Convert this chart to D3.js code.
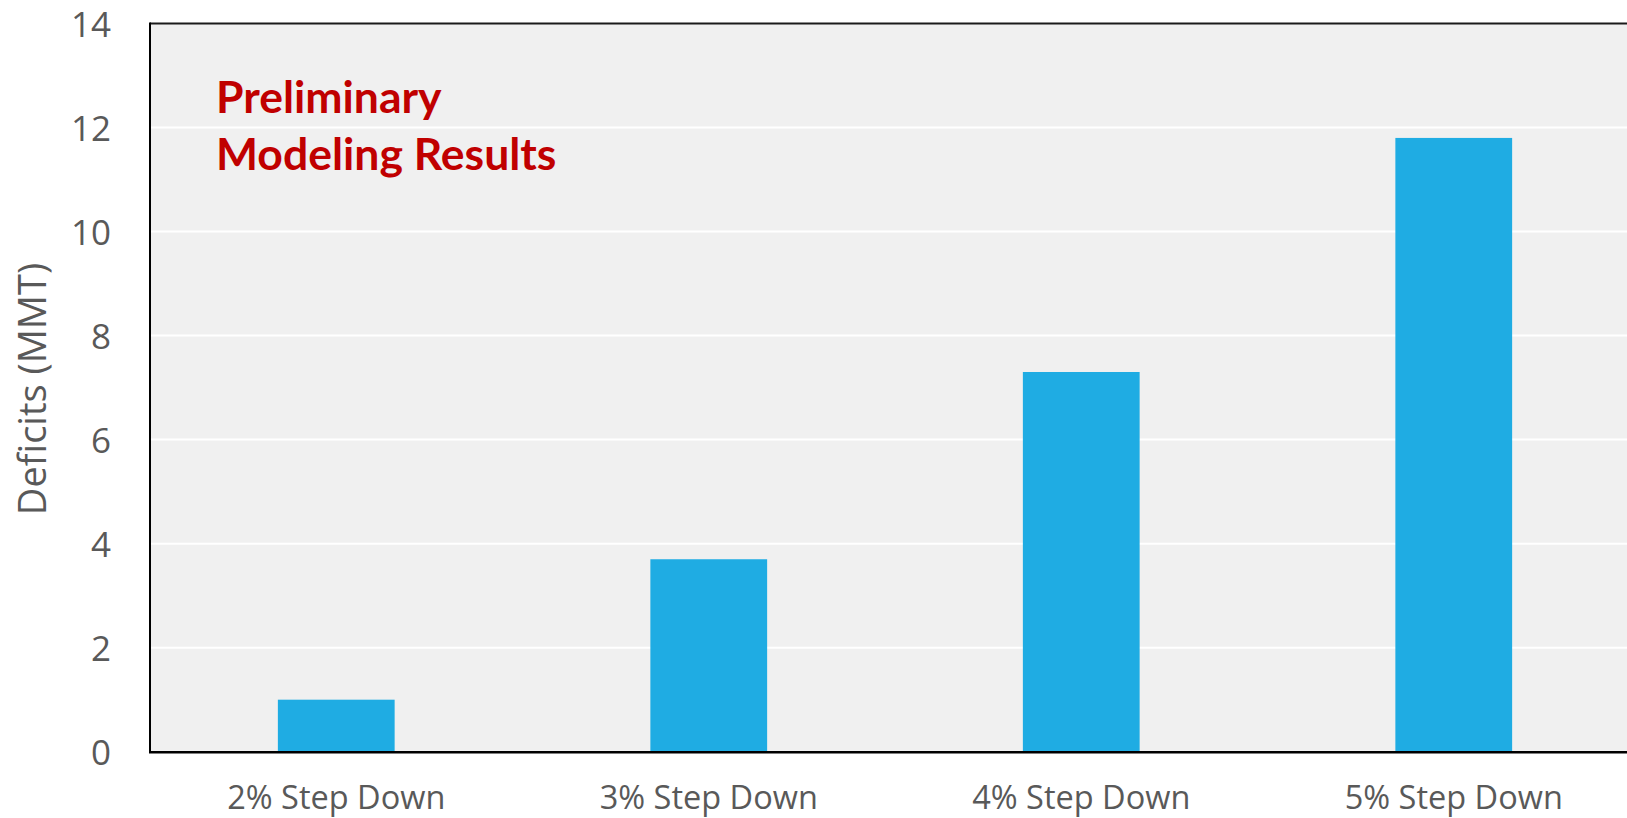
<!DOCTYPE html>
<html>
<head>
<meta charset="utf-8">
<script src="https://cdn.jsdelivr.net/npm/d3@7"></script>
<style>
  html, body { margin: 0; padding: 0; background: #ffffff; overflow: hidden; }
  svg { display: block; }
</style>
</head>
<body>
<svg id="chart" width="1627" height="818"></svg>
<script>
// ---- data ----
const categories = ["2% Step Down", "3% Step Down", "4% Step Down", "5% Step Down"];
const deficits = [1.0, 3.7, 7.3, 11.8];
const yTicks = [0, 2, 4, 6, 8, 10, 12, 14];
const yLabel = "Deficits (MMT)";
const noteLines = ["Preliminary", "Modeling Results"];

// ---- layout ----
const W = 1627, H = 818;
const plot = { left: 150, right: 1640, top: 23.5, bottom: 751.7 };

const svg = d3.select("#chart");

const x = d3.scaleBand()
  .domain(categories)
  .range([plot.left, plot.right])
  .paddingInner(1 - 1 / 3.19)
  .paddingOuter((1 - 1 / 3.19) / 2);

const y = d3.scaleLinear().domain([0, 14]).range([plot.bottom, plot.top]);

// plot background
svg.append("rect")
  .attr("x", plot.left).attr("y", plot.top)
  .attr("width", plot.right - plot.left).attr("height", plot.bottom - plot.top)
  .attr("fill", "#f0f0f0");

// gridlines
svg.append("g")
  .selectAll("line")
  .data(yTicks.filter(t => t > 0 && t < 14))
  .join("line")
  .attr("x1", plot.left).attr("x2", plot.right)
  .attr("y1", d => y(d)).attr("y2", d => y(d))
  .attr("stroke", "#ffffff").attr("stroke-width", 2);

// bars
svg.append("g")
  .selectAll("rect")
  .data(categories.map((c, i) => ({ c, v: deficits[i] })))
  .join("rect")
  .attr("x", d => x(d.c))
  .attr("width", x.bandwidth())
  .attr("y", d => y(d.v))
  .attr("height", d => y(0) - y(d.v))
  .attr("fill", "#1facE3");

// borders
svg.append("line")
  .attr("x1", plot.left).attr("x2", plot.right)
  .attr("y1", plot.top).attr("y2", plot.top)
  .attr("stroke", "#1a1a1a").attr("stroke-width", 2);
svg.append("line")
  .attr("x1", plot.left).attr("x2", plot.left)
  .attr("y1", plot.top - 1).attr("y2", plot.bottom + 1)
  .attr("stroke", "#000").attr("stroke-width", 2);
svg.append("line")
  .attr("x1", plot.left - 1).attr("x2", plot.right)
  .attr("y1", plot.bottom + 0.5).attr("y2", plot.bottom + 0.5)
  .attr("stroke", "#000").attr("stroke-width", 2.5);

// y axis (labels only)
const yAxis = d3.axisLeft(y).tickValues(yTicks).tickSize(0).tickPadding(0).tickFormat(d3.format("d"));
const gy = svg.append("g").attr("transform", `translate(${plot.left - 39},0)`).call(yAxis);
gy.select(".domain").remove();
gy.selectAll("text")
  .attr("font-family", "'Open Sans', sans-serif")
  .attr("font-size", 35)
  .attr("fill", "#595959")
  .attr("dy", "0.36em");

// x axis (labels only)
const xAxis = d3.axisBottom(x).tickSize(0).tickPadding(0);
const gx = svg.append("g").attr("transform", `translate(0,${plot.bottom})`).call(xAxis);
gx.select(".domain").remove();
gx.selectAll("text")
  .attr("font-family", "'Open Sans', sans-serif")
  .attr("font-size", 32.5)
  .attr("fill", "#595959")
  .attr("dy", null)
  .attr("y", 57);

// y axis title
svg.append("text")
  .attr("transform", `translate(46,389) rotate(-90)`)
  .attr("text-anchor", "middle")
  .attr("font-family", "'Open Sans', sans-serif")
  .attr("font-size", 38)
  .attr("fill", "#595959")
  .text(yLabel);

// note
const note = svg.append("text")
  .attr("font-family", "Lato, sans-serif")
  .attr("font-weight", "bold")
  .attr("font-size", 44.5)
  .attr("fill", "#c00000");
note.selectAll("tspan")
  .data(noteLines)
  .join("tspan")
  .attr("x", 216)
  .attr("y", (d, i) => 113 + i * 57)
  .text(d => d);
</script>
</body>
</html>
